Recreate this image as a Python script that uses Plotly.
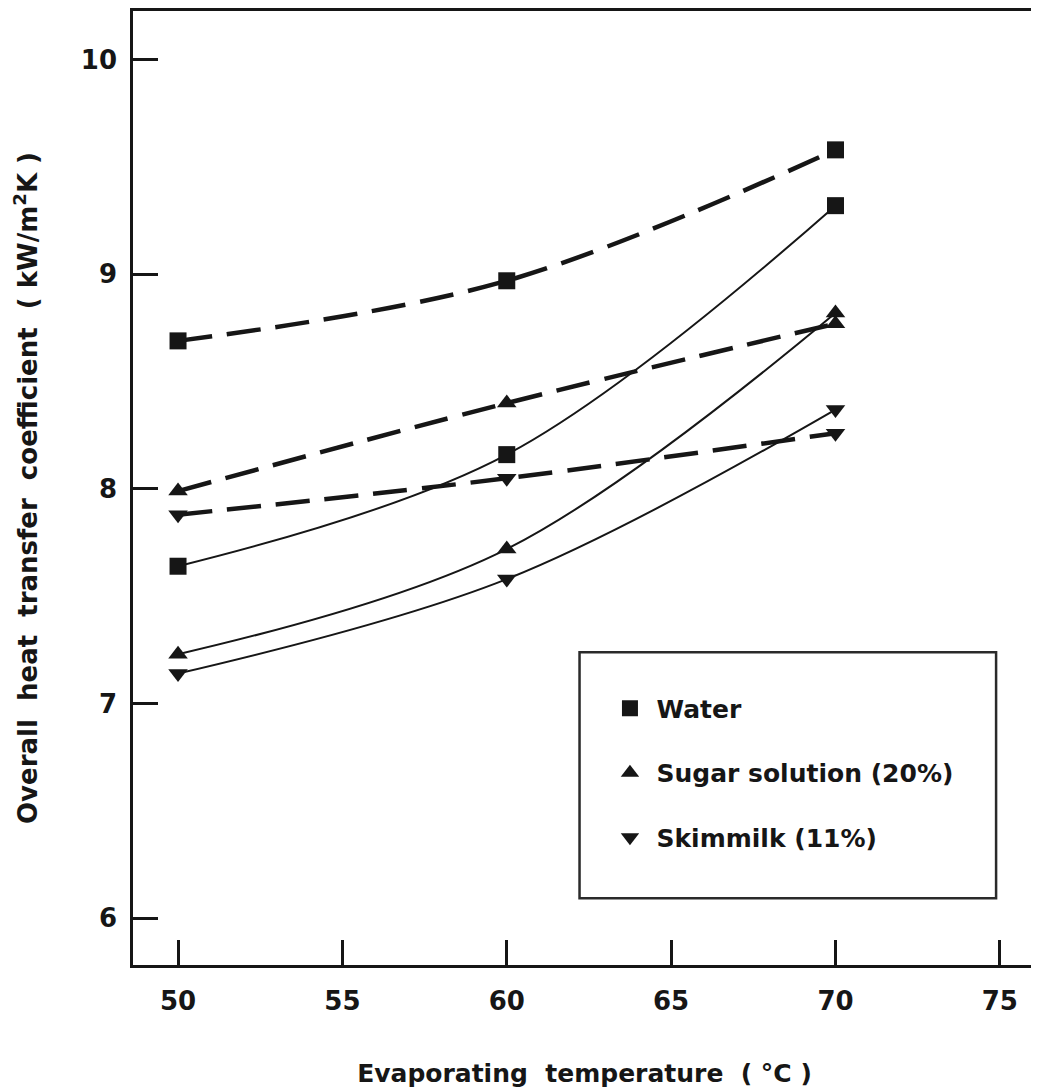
import plotly.graph_objects as go

temps = [50, 60, 70]

water_dashed = [8.69, 8.97, 9.58]
water_solid = [7.64, 8.16, 9.32]
sugar_dashed = [7.99, 8.40, 8.77]
sugar_solid = [7.23, 7.72, 8.82]
skim_dashed = [7.88, 8.05, 8.26]
skim_solid = [7.14, 7.58, 8.37]

series_names = ["Water", "Sugar solution (20%)", "Skimmilk (11%)"]
symbols = ["square", "triangle-up", "triangle-down"]

x_ticks = [50, 55, 60, 65, 70, 75]
y_ticks = [6, 7, 8, 9, 10]

INK = "#161616"
FONT = "DejaVu Sans"

fig = go.Figure()

pairs = [
    (water_dashed, water_solid, symbols[0]),
    (sugar_dashed, sugar_solid, symbols[1]),
    (skim_dashed, skim_solid, symbols[2]),
]

for dashed, solid, sym in pairs:
    fig.add_trace(go.Scatter(
        x=temps, y=dashed, mode="lines+markers", showlegend=False,
        line=dict(color=INK, width=4.5, dash="34px,15px", shape="spline"),
        marker=dict(symbol=sym, size=17, color=INK),
    ))
    fig.add_trace(go.Scatter(
        x=temps, y=solid, mode="lines+markers", showlegend=False,
        line=dict(color=INK, width=2, shape="spline"),
        marker=dict(symbol=sym, size=17, color=INK),
    ))

for name, sym in zip(series_names, symbols):
    fig.add_trace(go.Scatter(
        x=[None], y=[None], mode="markers", name=name, legendgroup=name,
        marker=dict(symbol=sym, size=17, color=INK),
    ))

# legend frame
fig.add_shape(type="rect", xref="paper", yref="paper",
              x0=0.4945, x1=0.9558, y0=0.0699, y1=0.3278,
              line=dict(color="#2a2a2a", width=2.5), fillcolor="rgba(0,0,0,0)")

fig.update_layout(
    width=1031, height=1084,
    margin=dict(l=125, r=2, t=0, b=127),
    paper_bgcolor="white", plot_bgcolor="white",
    font=dict(family=FONT, color=INK, size=26),
    showlegend=True,
    legend=dict(
        x=0.521, y=0.293, xanchor="left", yanchor="top",
        bgcolor="rgba(0,0,0,0)", borderwidth=0,
        font=dict(family=FONT, size=25, color=INK, weight="bold"),
        tracegroupgap=29, itemsizing="trace", itemwidth=43,
    ),
    xaxis=dict(
        range=[48.63, 76.1], tickvals=x_ticks, ticktext=[str(v) for v in x_ticks],
        ticks="inside", ticklen=25, tickwidth=2.5, tickcolor=INK,
        showline=True, linecolor=INK, linewidth=2.5, mirror=True,
        showgrid=False, zeroline=False,
        tickfont=dict(family=FONT, size=26, color=INK, weight="bold"),
        ticklabelstandoff=11,
        title=dict(text="Evaporating  temperature  ( °C )",
                   font=dict(family=FONT, size=25, color=INK, weight="bold"), standoff=50),
    ),
    yaxis=dict(
        range=[5.782, 10.227], tickvals=y_ticks, ticktext=[str(v) for v in y_ticks],
        ticks="inside", ticklen=25, tickwidth=2.5, tickcolor=INK,
        showline=True, linecolor=INK, linewidth=2.5, mirror=True,
        showgrid=False, zeroline=False,
        tickfont=dict(family=FONT, size=26, color=INK, weight="bold"),
        ticklabelstandoff=8,
        title=dict(text="Overall  heat  transfer  coefficient  ( kW/m<sup>2</sup>K )",
                   font=dict(family=FONT, size=26, color=INK, weight="bold"), standoff=36),
    ),
)

fig.write_html("out.html")
